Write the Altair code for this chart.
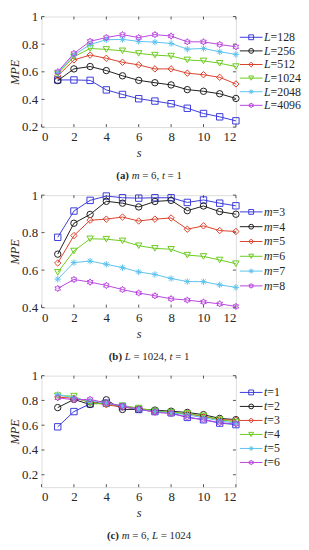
import math
import altair as alt
import pandas as pd

# ---------------- data ----------------
S = list(range(1, 13))
X_TICKS = [0, 2, 4, 6, 8, 10, 12]

# Panel (a): m = 6, t = 1, series by L
A_KEYS = ["128", "256", "512", "1024", "2048", "4096"]
A_L128 = [0.541, 0.541, 0.538, 0.469, 0.436, 0.405, 0.388, 0.369, 0.336, 0.298, 0.274, 0.245]
A_L256 = [0.536, 0.621, 0.638, 0.609, 0.571, 0.538, 0.521, 0.505, 0.471, 0.459, 0.441, 0.407]
A_L512 = [0.570, 0.686, 0.721, 0.698, 0.669, 0.650, 0.621, 0.621, 0.590, 0.579, 0.560, 0.512]
A_L1024 = [0.585, 0.709, 0.769, 0.762, 0.752, 0.733, 0.721, 0.714, 0.686, 0.679, 0.662, 0.638]
A_L2048 = [0.595, 0.720, 0.798, 0.832, 0.835, 0.820, 0.815, 0.805, 0.764, 0.769, 0.745, 0.726]
A_L4096 = [0.600, 0.733, 0.821, 0.848, 0.869, 0.848, 0.869, 0.859, 0.817, 0.817, 0.798, 0.781]
A_YTICKS = [0.2, 0.4, 0.6, 0.8, 1.0]

# Panel (b): L = 1024, t = 1, series by m
B_KEYS = ["3", "4", "5", "6", "7", "8"]
B_M3 = [0.775, 0.915, 0.972, 0.995, 0.986, 0.984, 0.986, 0.986, 0.961, 0.974, 0.957, 0.943]
B_M4 = [0.685, 0.850, 0.897, 0.967, 0.957, 0.937, 0.966, 0.972, 0.917, 0.942, 0.912, 0.898]
B_M5 = [0.638, 0.784, 0.866, 0.872, 0.883, 0.862, 0.872, 0.878, 0.818, 0.836, 0.811, 0.806]
B_M6 = [0.588, 0.702, 0.767, 0.765, 0.756, 0.730, 0.716, 0.711, 0.680, 0.673, 0.654, 0.634]
B_M7 = [0.552, 0.640, 0.648, 0.631, 0.613, 0.590, 0.577, 0.555, 0.539, 0.538, 0.521, 0.508]
B_M8 = [0.502, 0.550, 0.536, 0.518, 0.496, 0.478, 0.463, 0.447, 0.440, 0.430, 0.420, 0.406]
B_YTICKS = [0.4, 0.6, 0.8, 1.0]

# Panel (c): m = 6, L = 1024, series by t
C_KEYS = ["1", "2", "3", "4", "5", "6"]
C_T1 = [0.587, 0.710, 0.772, 0.778, 0.750, 0.727, 0.710, 0.700, 0.663, 0.644, 0.617, 0.605]
C_T2 = [0.742, 0.808, 0.767, 0.805, 0.727, 0.728, 0.722, 0.713, 0.703, 0.685, 0.655, 0.645]
C_T3 = [0.826, 0.818, 0.788, 0.765, 0.746, 0.734, 0.707, 0.701, 0.692, 0.670, 0.645, 0.640]
C_T4 = [0.838, 0.835, 0.775, 0.772, 0.758, 0.739, 0.715, 0.706, 0.694, 0.675, 0.645, 0.626]
C_T5 = [0.848, 0.820, 0.795, 0.780, 0.755, 0.727, 0.710, 0.700, 0.684, 0.660, 0.636, 0.615]
C_T6 = [0.821, 0.805, 0.809, 0.779, 0.755, 0.730, 0.705, 0.693, 0.665, 0.645, 0.620, 0.610]
C_YTICKS = [0.2, 0.4, 0.6, 0.8, 1.0]

# ---------------- style ----------------
FONT = "Liberation Serif"
TXT = "#262626"
COLORS = ["#3b3bdb", "#1e1e1e", "#d9412b", "#6acb1c", "#5cc2ee", "#b945dd"]


def _hexagram():
    pts = []
    for k in range(12):
        a = math.radians(-90 + 30 * k)
        r = 1.0 if k % 2 == 0 else 0.58
        pts.append("%.3f,%.3f" % (r * math.cos(a), r * math.sin(a)))
    return "M" + "L".join(pts) + "Z"


ASTERISK = "M-1,0L1,0M0,-1L0,1M-0.7,-0.7L0.7,0.7M-0.7,0.7L0.7,-0.7"
SHAPES = ["square", "circle", "diamond", "triangle-down", ASTERISK, _hexagram()]

W = 197
LW = 64
TICK = 3

# Times-compatible advance widths (1/1000 em) used to lay out mixed-style text
REG = {" ": 250, "(": 333, ")": 333, "=": 564, ",": 250}
BOLD = {"(": 333, ")": 333, "a": 500, "b": 556, "c": 444}
ITAL = {"L": 556, "m": 722, "t": 278}


def width(txt, style, size):
    tot = 0
    for ch in txt:
        if style == "bold":
            tot += BOLD.get(ch, 500)
        elif style == "italic":
            tot += ITAL.get(ch, 500)
        else:
            tot += REG.get(ch, 500)
    return tot * size / 1000.0


AX = dict(labelFont=FONT, labelFontSize=13, labelColor=TXT, labelOverlap=False,
          labelPadding=4, ticks=False, domain=False, grid=False,
          titleFontStyle="italic", titleFont=FONT, titleFontSize=12.5,
          titleFontWeight="normal", titleColor=TXT)


def panel(keys, series, letter, ydom, yticks, caption, H, leg_top, leg_bot):
    rows = []
    for k, vals in zip(keys, series):
        for s, v in zip(S, vals):
            rows.append({"s": s, "v": v, "k": k})
    df = pd.DataFrame(rows)

    color = alt.Color("k:N", scale=alt.Scale(domain=keys, range=COLORS), legend=None)
    shape = alt.Shape("k:N", scale=alt.Scale(domain=keys, range=SHAPES), legend=None)
    xs = alt.Scale(domain=[0, 12], nice=False, zero=False)
    ys = alt.Scale(domain=ydom, nice=False, zero=False)

    xaxis = alt.Axis(values=X_TICKS, format="d", title="s", titlePadding=3, **AX)
    yaxis = alt.Axis(values=yticks, format=".1~f", title="MPE", titlePadding=0, **AX)

    def X(f):
        return alt.X(f, scale=xs, axis=xaxis)

    def Y(f):
        return alt.Y(f, scale=ys, axis=yaxis)

    lines = alt.Chart(df).mark_line(strokeWidth=1).encode(
        x=X("s:Q"), y=Y("v:Q"), color=color, detail="k:N")
    pts = alt.Chart(df).mark_point(filled=False, size=42, strokeWidth=1, opacity=1).encode(
        x=X("s:Q"), y=Y("v:Q"), color=color, shape=shape)

    xt = pd.DataFrame({"s": X_TICKS})
    yt = pd.DataFrame({"v": yticks})
    tcol = "#555555"
    xt_bot = alt.Chart(xt).mark_rule(color=tcol, strokeWidth=1).encode(
        x=X("s:Q"), y=alt.value(H), y2=alt.value(H - TICK))
    xt_top = alt.Chart(xt).mark_rule(color=tcol, strokeWidth=1).encode(
        x=X("s:Q"), y=alt.value(0), y2=alt.value(TICK))
    yt_l = alt.Chart(yt).mark_rule(color=tcol, strokeWidth=1).encode(
        y=Y("v:Q"), x=alt.value(0), x2=alt.value(TICK))
    yt_r = alt.Chart(yt).mark_rule(color=tcol, strokeWidth=1).encode(
        y=Y("v:Q"), x=alt.value(W - TICK), x2=alt.value(W))

    # caption with mixed styles (leading spaces become x offsets)
    one = pd.DataFrame({"z": [0]})
    cap_size = 11
    total = sum(width(t, st, cap_size) for t, st in caption)
    cx = 109
    x = cx - total / 2
    caps = []
    for t, st in caption:
        core = t.strip()
        lead = width(t[: len(t) - len(t.lstrip())], "reg", cap_size)
        if core:
            kw = dict(text=core, font=FONT, fontSize=cap_size, align="left", baseline="middle", color=TXT)
            if st == "bold":
                kw["fontWeight"] = "bold"
            if st == "italic":
                kw["fontStyle"] = "italic"
            caps.append(alt.Chart(one).mark_text(**kw).encode(
                x=alt.value(x + lead), y=alt.value(H + 50)))
        x += width(t, st, cap_size)

    plot = alt.layer(xt_bot, xt_top, yt_l, yt_r, lines, pts, *caps).properties(width=W, height=H)

    # legend (its own small chart to the right of the plot)
    leg = pd.DataFrame({"k": keys, "i": list(range(len(keys))), "lab": ["=" + k for k in keys]})
    ly = alt.Y("i:Q", scale=alt.Scale(domain=[0, len(keys) - 1], range=[leg_top, leg_bot]), axis=None)
    lx0, lx1 = 4, 27
    ltx = 28.5
    lrule = alt.Chart(leg).mark_rule(strokeWidth=1).encode(
        x=alt.value(lx0), x2=alt.value(lx1), y=ly, color=color)
    lpts = alt.Chart(leg).mark_point(filled=False, size=24, strokeWidth=1, opacity=1).encode(
        x=alt.value((lx0 + lx1) / 2), y=ly, color=color, shape=shape)
    ltxt1 = alt.Chart(leg).mark_text(text=letter, font=FONT, fontSize=12, fontStyle="italic",
                                     align="left", baseline="middle", color=TXT).encode(
        x=alt.value(ltx), y=ly)
    ltxt2 = alt.Chart(leg).mark_text(font=FONT, fontSize=12, align="left", baseline="middle",
                                     color=TXT).encode(
        x=alt.value(ltx + width(letter, "italic", 12)), y=ly, text="lab:N")
    legend = alt.layer(lrule, lpts, ltxt1, ltxt2).properties(
        width=LW, height=H, view=alt.ViewBackground(strokeWidth=0))

    return alt.hconcat(plot, legend, spacing=0, bounds="flush").resolve_scale(
        color="shared", shape="shared")


pa = panel(A_KEYS, [A_L128, A_L256, A_L512, A_L1024, A_L2048, A_L4096], "L", [0.2, 1.0], A_YTICKS,
           [("(a)", "bold"), (" ", "reg"), ("m", "italic"), (" = 6, ", "reg"), ("t", "italic"), (" = 1", "reg")],
           112, 21, 90)
pb = panel(B_KEYS, [B_M3, B_M4, B_M5, B_M6, B_M7, B_M8], "m", [0.4, 1.0], B_YTICKS,
           [("(b)", "bold"), (" ", "reg"), ("L", "italic"), (" = 1024, ", "reg"), ("t", "italic"), (" = 1", "reg")],
           114, 17, 92)
pc = panel(C_KEYS, [C_T1, C_T2, C_T3, C_T4, C_T5, C_T6], "t", [0.1, 1.0], C_YTICKS,
           [("(c)", "bold"), (" ", "reg"), ("m", "italic"), (" = 6, ", "reg"), ("L", "italic"), (" = 1024", "reg")],
           113, 17, 88)

chart = alt.vconcat(pa, pb, pc, spacing=6).resolve_scale(
    color="independent", shape="independent"
).properties(
    padding={"left": 0, "top": -2, "right": 0, "bottom": 0}
).configure_view(stroke="#555555", strokeWidth=1).configure(background="white")

chart.save("out.html", embed_options={"renderer": "svg", "actions": False})
